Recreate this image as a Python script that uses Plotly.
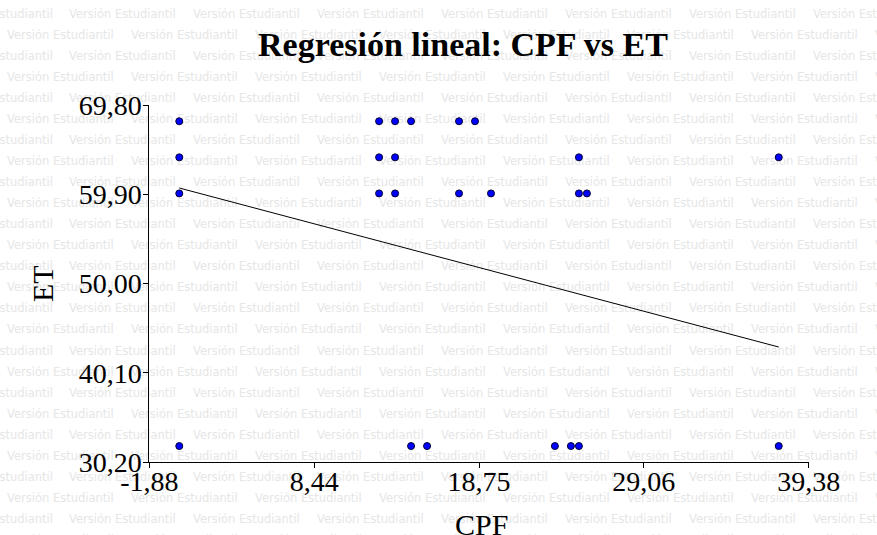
import plotly.graph_objects as go

# ---- data ----
cpf_68 = [0, 12.5, 13.5, 14.5, 17.5, 18.5]
cpf_64 = [0, 12.5, 13.5, 25, 37.5]
cpf_60 = [0, 12.5, 13.5, 17.5, 19.5, 25, 25.5]
cpf_32 = [0, 14.5, 15.5, 23.5, 24.5, 25, 37.5]
et_levels = [68, 64, 60, 32]

fit_intercept = 60.6
fit_slope = -0.47

x_tickvals = [-1.875, 8.44, 18.75, 29.06, 39.375]
x_ticktext = ["-1,88", "8,44", "18,75", "29,06", "39,38"]
y_tickvals = [30.2, 40.1, 50.0, 59.9, 69.8]
y_ticktext = ["30,20", "40,10", "50,00", "59,90", "69,80"]

title_text = "Regresión lineal: CPF vs ET"
x_title = "CPF"
y_title = "ET"
watermark = "Versión Estudiantil"

# ---- build ----
W, H = 877, 535
xs, ys = [], []
for lvl, arr in zip(et_levels, [cpf_68, cpf_64, cpf_60, cpf_32]):
    xs += arr
    ys += [lvl] * len(arr)

fit_x = [min(xs), max(xs)]
fit_y = [fit_intercept + fit_slope * v for v in fit_x]

# watermark tiling (pixel coordinates on a full-figure helper axis)
WM_W = 108
wm_x, wm_y = [], []      # anchored at left edge
wm_xl, wm_yl = [], []    # partially off the left edge, anchored at right edge
for k in range(-1, 26):
    yy = 15 + 21.04 * k
    xx = -55 if k % 2 == 0 else 7
    while xx < W:
        if xx < 0:
            wm_xl.append(xx + WM_W)
            wm_yl.append(yy)
        else:
            wm_x.append(xx)
            wm_y.append(yy)
        xx += 124

wm_font = dict(family="DejaVu Sans", size=11.5, color="#e6e6e6")
fig = go.Figure()
fig.add_trace(go.Scatter(
    x=wm_x, y=wm_y, mode="text", text=[watermark] * len(wm_x),
    textposition="middle right", textfont=wm_font,
    hoverinfo="skip", showlegend=False, xaxis="x", yaxis="y"))
fig.add_trace(go.Scatter(
    x=wm_xl, y=wm_yl, mode="text", text=[watermark] * len(wm_xl),
    textposition="middle left", textfont=wm_font,
    hoverinfo="skip", showlegend=False, xaxis="x", yaxis="y"))

fig.add_trace(go.Scatter(
    x=fit_x, y=fit_y, mode="lines", line=dict(color="black", width=1),
    hoverinfo="skip", showlegend=False, xaxis="x2", yaxis="y2"))

fig.add_trace(go.Scatter(
    x=xs, y=ys, mode="markers",
    marker=dict(size=7, color="#0000ff", line=dict(color="#000033", width=1)),
    showlegend=False, xaxis="x2", yaxis="y2", cliponaxis=False))

x0p, x1p = 149.3 / W, 808.7 / W
y0p, y1p = 1 - 462.3 / H, 1 - 105 / H
serif = "Liberation Serif"

fig.update_layout(
    width=W, height=H,
    margin=dict(l=0, r=0, t=0, b=0),
    paper_bgcolor="white", plot_bgcolor="rgba(0,0,0,0)",
    showlegend=False,
    title=dict(text="<b>" + title_text + "</b>", x=463 / W, xanchor="center",
               y=1 - 44 / H, yanchor="middle",
               font=dict(family=serif, size=34, color="black")),
    xaxis=dict(domain=[0, 1], range=[0, W], visible=False, fixedrange=True),
    yaxis=dict(domain=[0, 1], range=[H, 0], visible=False, fixedrange=True),
    xaxis2=dict(domain=[x0p, x1p], anchor="y2", range=[-1.875, 39.375],
                tickmode="array", tickvals=x_tickvals, ticktext=x_ticktext,
                showgrid=False, zeroline=False, showline=True,
                linecolor="black", linewidth=1, ticks="outside", ticklen=5,
                tickcolor="black", ticklabelstandoff=-11,
                tickfont=dict(family=serif, size=28, color="black"),
                automargin=False),
    yaxis2=dict(domain=[y0p, y1p], anchor="x2", range=[30.2, 69.8],
                tickmode="array", tickvals=y_tickvals, ticktext=y_ticktext,
                showgrid=False, zeroline=False, showline=True,
                linecolor="black", linewidth=1, ticks="outside", ticklen=5,
                tickcolor="black", ticklabelstandoff=-4,
                tickfont=dict(family=serif, size=28, color="black"),
                title=dict(text=y_title, standoff=16,
                           font=dict(family=serif, size=30, color="black")),
                automargin=False),
    annotations=[dict(text=x_title, xref="paper", yref="paper",
                      x=481 / W, y=1 - 524 / H, xanchor="center", yanchor="middle",
                      showarrow=False,
                      font=dict(family=serif, size=30, color="black"))],
)

fig.write_html("out.html")
